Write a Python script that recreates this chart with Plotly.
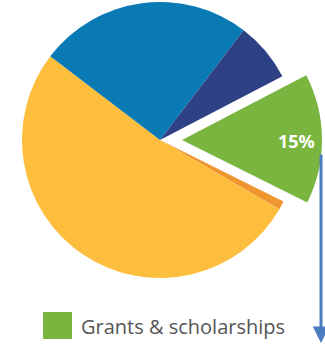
import plotly.graph_objects as go

# Share of funding by source (percent)
sources = ["Grants & scholarships", "Source B", "Source C", "Source D", "Source E"]
shares = [15, 1, 52, 25, 7]
colors = ["#7ab53f", "#ef9630", "#fdbe3d", "#0a7ab5", "#2e4185"]
highlight = "Grants & scholarships"

W, H = 325, 345
hi = sources.index(highlight)

fig = go.Figure()

# Main pie: every slice except the highlighted one
fig.add_trace(go.Pie(
    labels=sources, values=shares, sort=False, direction="clockwise",
    rotation=62.5,
    marker=dict(colors=[("rgba(0,0,0,0)" if s == highlight else c)
                        for s, c in zip(sources, colors)],
                line=dict(width=0)),
    textinfo="none", hoverinfo="label+percent", showlegend=False,
    domain=dict(x=[22 / W, 298 / W], y=[67 / H, 343 / H]),
))

# Exploded highlighted slice, drawn slightly larger and offset to the right
fig.add_trace(go.Pie(
    labels=sources, values=shares, sort=False, direction="clockwise",
    rotation=62.5,
    marker=dict(colors=[(c if s == highlight else "rgba(0,0,0,0)")
                        for s, c in zip(sources, colors)],
                line=dict(width=0)),
    textinfo="none", hoverinfo="label+percent", showlegend=False,
    domain=dict(x=[39 / W, 1.0], y=[65 / H, 1.0]),
))

# Value label on the exploded slice
fig.add_annotation(text=f"<b>{shares[hi]}%</b>", xref="paper", yref="paper",
                   x=296 / W, y=(H - 141) / H, xanchor="center", yanchor="middle",
                   showarrow=False, font=dict(family="Open Sans", size=18, color="white"))

# Legend swatch and label
fig.add_shape(type="rect", xref="paper", yref="paper",
              x0=43 / W, x1=72 / W, y0=(H - 339) / H, y1=(H - 312) / H,
              fillcolor=colors[hi], line=dict(width=0))
fig.add_annotation(text=highlight, xref="paper", yref="paper",
                   x=79 / W, y=(H - 326) / H, xanchor="left", yanchor="middle",
                   showarrow=False, font=dict(family="Open Sans", size=20, color="#555555"))

# Connector arrow along the right edge
fig.add_annotation(text="", xref="paper", yref="paper",
                   x=321 / W, y=(H - 343) / H, ax=0, ay=-190,
                   showarrow=True, arrowhead=2, arrowsize=1.1, arrowwidth=3,
                   arrowcolor="#4a7cc0")

fig.update_layout(width=W, height=H, margin=dict(l=0, r=0, t=0, b=0),
                  paper_bgcolor="white", plot_bgcolor="white")

fig.write_html("out.html")
